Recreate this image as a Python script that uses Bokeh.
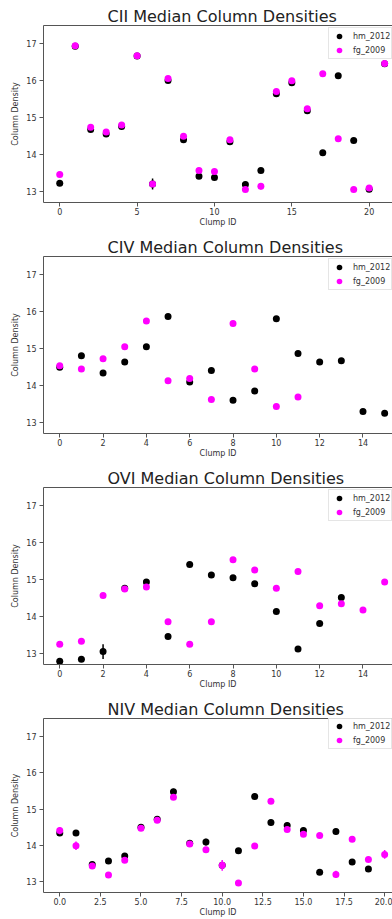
import numpy as np
from bokeh.plotting import figure
from bokeh.models import (Range1d, FixedTicker, NumeralTickFormatter, Legend, LegendItem,
                          LinearAxis)
from bokeh.layouts import column
from bokeh.embed import file_html
from bokeh.resources import INLINE

nan = float("nan")

# ---------------- data ----------------
cii_ids = list(range(22))
cii_hm = [13.22, 16.94, 14.68, 14.56, 14.76, 16.67, 13.20, 16.01, 14.40, 13.41, 13.38,
          14.35, 13.19, 13.57, 15.65, 15.95, 15.19, 14.05, 16.14, 14.38, 13.06, 16.46]
cii_hm_err = [0.04, 0.03, 0.04, 0.04, 0.04, 0.03, 0.15, 0.04, 0.04, 0.04, 0.04,
              0.04, 0.04, 0.04, 0.04, 0.04, 0.04, 0.04, 0.04, 0.04, 0.04, 0.03]
cii_fg = [13.46, 16.95, 14.74, 14.61, 14.80, 16.68, 13.20, 16.06, 14.50, 13.57, 13.54,
          14.40, 13.05, 13.14, 15.71, 16.00, 15.24, 16.19, 14.43, 13.05, 13.09, 16.47]
cii_fg_err = [0.03, 0.03, 0.04, 0.04, 0.04, 0.03, 0.08, 0.04, 0.04, 0.04, 0.04,
              0.04, 0.05, 0.09, 0.04, 0.04, 0.04, 0.03, 0.04, 0.04, 0.05, 0.03]

civ_ids = list(range(16))
civ_hm = [14.50, 14.81, 14.34, 14.64, 15.05, 15.87, 14.10, 14.41, 13.60, 13.85, 15.81,
          14.87, 14.64, 14.67, 13.30, 13.25]
civ_hm_err = [0.04] * 16
civ_fg = [14.54, 14.45, 14.73, 15.05, 15.75, 14.13, 14.19, 13.62, 15.68, 14.45, 13.43,
          13.69, nan, nan, nan, nan]
civ_fg_err = [0.04] * 16

ovi_ids = list(range(16))
ovi_hm = [12.79, 12.84, 13.05, 14.77, 14.94, 13.46, 15.41, 15.13, 15.05, 14.89, 14.14,
          13.12, 13.81, 14.52, nan, nan]
ovi_hm_err = [0.04, 0.04, 0.20, 0.04, 0.05, 0.04, 0.04, 0.04, 0.04, 0.04, 0.04,
              0.04, 0.04, 0.05, 0.04, 0.04]
ovi_fg = [13.25, 13.33, 14.57, 14.75, 14.80, 13.86, 13.25, 13.86, 15.54, 15.26, 14.77,
          15.22, 14.29, 14.35, 14.18, 14.94]
ovi_fg_err = [0.04] * 16

niv_ids = list(range(21))
niv_hm = [14.34, 14.34, 13.47, 13.57, 13.71, 14.50, 14.72, 15.48, 14.06, 14.09, 13.45,
          13.85, 15.35, 14.63, 14.55, 14.41, 13.26, 14.38, 13.54, 13.35, nan]
niv_hm_err = [0.08, 0.08, 0.06, 0.08, 0.08, 0.06, 0.06, 0.08, 0.06, 0.09, 0.06,
              0.06, 0.08, 0.08, 0.08, 0.08, 0.06, 0.08, 0.07, 0.06, 0.06]
niv_fg = [14.41, 13.99, 13.43, 13.18, 13.59, 14.47, 14.69, 15.33, 14.04, 13.88, 13.45,
          12.96, 13.98, 15.22, 14.44, 14.31, 14.27, 13.20, 14.17, 13.61, 13.75]
niv_fg_err = [0.10, 0.12, 0.06, 0.05, 0.06, 0.05, 0.05, 0.06, 0.06, 0.06, 0.15,
              0.05, 0.06, 0.07, 0.06, 0.06, 0.06, 0.10, 0.07, 0.07, 0.12]

y_ticks = [13, 14, 15, 16, 17]
series_labels = ["hm_2012", "fg_2009"]
series_colors = ["#000000", "#ff00ff"]

# ---------------- layout constants ----------------
FONT = "DejaVu Sans"
FIG_W = 392
BORDER_L = 43
BORDER_T = 25
FRAME_H = 177
AXES_FULL_W = 357.4          # width of the original (partly hidden) axes
FRAME_W = FIG_W - BORDER_L
VISIBLE = FRAME_W / AXES_FULL_W
Y_LO, Y_HI = 12.7, 17.5
AX_COLOR = "#555555"
TXT_COLOR = "#333333"


def make_panel(title, ids, hm, hm_err, fg, fg_err, x_ticks, fmt, bottom):
    ids = np.asarray(ids, dtype=float)
    lo, hi = np.nanmin(ids), np.nanmax(ids)
    pad = 0.05 * (hi - lo)
    start = lo - pad
    end = start + (hi - lo + 2 * pad) * VISIBLE

    p = figure(width=FIG_W, height=BORDER_T + FRAME_H + bottom,
               x_range=Range1d(start, end), y_range=Range1d(Y_LO, Y_HI),
               output_backend="svg", toolbar_location=None, title=title,
               min_border_left=BORDER_L, min_border_right=0,
               min_border_top=BORDER_T, min_border_bottom=bottom)
    p.outline_line_color = None
    p.grid.visible = False
    p.background_fill_color = "white"
    p.border_fill_color = "white"

    p.title.text_font = FONT
    p.title.text_font_size = "16px"
    p.title.text_font_style = "normal"
    p.title.text_color = "#222222"
    p.title.align = "left"
    p.title.offset = 64
    p.title.standoff = 0

    for ax in (p.xaxis[0], p.yaxis[0]):
        ax.axis_line_color = AX_COLOR
        ax.major_tick_line_color = AX_COLOR
        ax.major_tick_out = 4
        ax.major_tick_in = 0
        ax.minor_tick_line_color = None
        ax.major_label_text_font = FONT
        ax.major_label_text_font_size = "8px"
        ax.major_label_text_color = TXT_COLOR
        ax.axis_label_text_font = FONT
        ax.axis_label_text_font_size = "8px"
        ax.axis_label_text_font_style = "normal"
        ax.axis_label_text_color = TXT_COLOR

    p.xaxis[0].ticker = FixedTicker(ticks=list(x_ticks))
    if fmt:
        p.xaxis[0].formatter = NumeralTickFormatter(format=fmt)
    p.xaxis[0].axis_label = "Clump ID"
    p.xaxis[0].major_label_standoff = 1
    p.xaxis[0].axis_label_standoff = 0

    p.yaxis[0].ticker = FixedTicker(ticks=y_ticks)
    p.yaxis[0].axis_label = "Column Density"
    p.yaxis[0].major_label_standoff = 3
    p.yaxis[0].axis_label_standoff = 3

    top = LinearAxis(ticker=FixedTicker(ticks=[]), major_label_text_font_size="0px",
                     major_tick_line_color=None, minor_tick_line_color=None,
                     major_tick_in=0, major_tick_out=0,
                     axis_line_color=AX_COLOR, major_label_standoff=0,
                     axis_label_standoff=0)
    p.add_layout(top, "above")

    items = []
    for lab, col, vals, errs in zip(series_labels, series_colors, [hm, fg], [hm_err, fg_err]):
        v = np.asarray(vals, dtype=float)
        e = np.asarray(errs, dtype=float)
        p.segment(x0=ids, y0=v - e, x1=ids, y1=v + e, line_color=col, line_width=1.5)
        r = p.scatter(x=ids, y=v, size=7, marker="circle", fill_color=col, line_color=None)
        items.append(LegendItem(label=lab, renderers=[r]))

    leg_h = 30
    legend = Legend(items=items, location=(285, FRAME_H - 4 - leg_h),
                    label_text_font=FONT, label_text_font_size="8px",
                    label_text_color=TXT_COLOR,
                    glyph_width=18, glyph_height=14, label_height=14,
                    label_standoff=5, padding=1, spacing=0, margin=0,
                    border_line_color="#cccccc", border_line_width=1,
                    background_fill_color="white", background_fill_alpha=0.8)
    p.add_layout(legend)
    return p


p1 = make_panel("CII Median Column Densities", cii_ids, cii_hm, cii_hm_err, cii_fg, cii_fg_err,
                [0, 5, 10, 15, 20], None, 29)
p2 = make_panel("CIV Median Column Densities", civ_ids, civ_hm, civ_hm_err, civ_fg, civ_fg_err,
                [0, 2, 4, 6, 8, 10, 12, 14], None, 29)
p3 = make_panel("OVI Median Column Densities", ovi_ids, ovi_hm, ovi_hm_err, ovi_fg, ovi_fg_err,
                [0, 2, 4, 6, 8, 10, 12, 14], None, 29)
p4 = make_panel("NIV Median Column Densities", niv_ids, niv_hm, niv_hm_err, niv_fg, niv_fg_err,
                [0, 2.5, 5, 7.5, 10, 12.5, 15, 17.5, 20], "0.0", 24)

layout = column(p1, p2, p3, p4, spacing=0)
open("out.html", "w").write(file_html(layout, INLINE))
